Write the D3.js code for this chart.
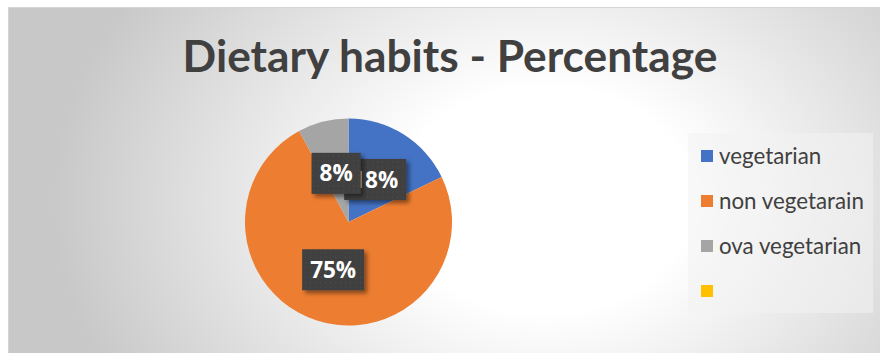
<!DOCTYPE html>
<html>
<head>
<meta charset="utf-8">
<script src="https://cdn.jsdelivr.net/npm/d3@7"></script>
<style>
  html, body { margin: 0; padding: 0; background: #ffffff; }
  svg { display: block; }
</style>
</head>
<body>
<svg id="chart" width="880" height="353"></svg>
<script>
// Dietary habits survey — share of respondents per diet
const categories = ["vegetarian", "non vegetarain", "ova vegetarian", ""];
const values = [18, 75, 8, 0];
const colors = ["#4472C4", "#ED7D31", "#A5A5A5", "#FFC000"];
const title = "Dietary habits - Percentage";

const W = 880, H = 353;
const svg = d3.select("#chart");
const defs = svg.append("defs");

// soft radial backdrop
const bg = defs.append("radialGradient")
  .attr("id", "bgGrad")
  .attr("gradientUnits", "userSpaceOnUse")
  .attr("cx", 545).attr("cy", 200).attr("r", 470)
  .attr("gradientTransform", "translate(545,200) scale(1.05,0.8) translate(-545,-200)");
bg.append("stop").attr("offset", 0).attr("stop-color", "#ffffff");
bg.append("stop").attr("offset", 0.3).attr("stop-color", "#ffffff");
bg.append("stop").attr("offset", 0.6).attr("stop-color", "#e8e8e8");
bg.append("stop").attr("offset", 1).attr("stop-color", "#c8c8c8");

// dotted texture for the value labels
const pat = defs.append("pattern")
  .attr("id", "dots").attr("patternUnits", "userSpaceOnUse")
  .attr("width", 5).attr("height", 5);
pat.append("rect").attr("width", 5).attr("height", 5).attr("fill", "#3f3f3f");
pat.append("circle").attr("cx", 2.5).attr("cy", 2.5).attr("r", 0.8).attr("fill", "#4d4d4d");

const shadow = defs.append("filter").attr("id", "shadow")
  .attr("x", "-30%").attr("y", "-30%").attr("width", "160%").attr("height", "160%");
shadow.append("feDropShadow").attr("dx", 3).attr("dy", 3).attr("stdDeviation", 2.2)
  .attr("flood-color", "#000").attr("flood-opacity", 0.45);

svg.append("rect")
  .attr("x", 8.5).attr("y", 7.5).attr("width", W).attr("height", H)
  .attr("fill", "url(#bgGrad)").attr("stroke", "#d4d4d4");

// helper: scale a text element's font so it spans the given width
function fitWidth(sel, base, width) {
  sel.attr("font-size", base);
  const w = sel.node().getComputedTextLength();
  return base * width / w;
}

// title, fitted to its span
const titleEl = svg.append("text")
  .attr("x", 450).attr("y", 72)
  .attr("text-anchor", "middle")
  .attr("font-family", "Lato, 'Open Sans', sans-serif")
  .attr("font-weight", 700)
  .attr("fill", "#404040")
  .text(title);
titleEl.attr("font-size", fitWidth(titleEl, 40, 535));

// pie
const cx = 348.5, cy = 222, R = 103.5;
const pie = d3.pie().sort(null).value(d => d.value);
const data = categories.map((c, i) => ({ name: c, value: values[i], color: colors[i] }));
const arcs = pie(data);
const arc = d3.arc().innerRadius(0).outerRadius(R);
const labelArc = d3.arc().innerRadius(R * 0.485).outerRadius(R * 0.485);

const g = svg.append("g").attr("transform", `translate(${cx},${cy})`);
g.selectAll("path.slice").data(arcs).join("path")
  .attr("class", "slice")
  .attr("d", arc)
  .attr("fill", d => d.data.color);

const labelSize = 22.5;

// value labels (dark callout boxes)
const lab = g.selectAll("g.lab").data(arcs.filter(d => d.data.value > 0)).join("g")
  .attr("class", "lab")
  .attr("transform", d => `translate(${labelArc.centroid(d)})`);
lab.each(function(d) {
  const sel = d3.select(this);
  const box = sel.append("rect").attr("fill", "url(#dots)").attr("filter", "url(#shadow)");
  const t = sel.append("text")
    .attr("text-anchor", "middle")
    .attr("dy", "0.36em")
    .attr("font-family", "'Open Sans', Lato, sans-serif")
    .attr("font-weight", 700)
    .attr("font-size", labelSize)
    .attr("fill", "#ffffff")
    .text(d.data.value + "%");
  const tw = t.node().getComputedTextLength();
  const bw = tw + 16, bh = 41;
  box.attr("x", -bw / 2).attr("y", -bh / 2).attr("width", bw).attr("height", bh);
});

// legend
const lg = svg.append("g");
lg.append("rect")
  .attr("x", 688).attr("y", 133).attr("width", 185).attr("height", 180)
  .attr("fill", "#f2f2f2").attr("opacity", 0.55);
const probe2 = svg.append("text")
  .attr("font-family", "Lato, 'Open Sans', sans-serif").text("non vegetarain");
const legendSize = fitWidth(probe2, 20, 145);
probe2.remove();
const rowY = d3.scalePoint().domain(categories.map((c, i) => i)).range([156, 291]);
const item = lg.selectAll("g.item").data(data).join("g")
  .attr("class", "item")
  .attr("transform", (d, i) => `translate(701,${rowY(i)})`);
item.append("rect")
  .attr("x", 0).attr("y", -6).attr("width", 12).attr("height", 12)
  .attr("fill", d => d.color);
item.append("text")
  .attr("x", 18).attr("dy", "0.35em")
  .attr("font-family", "Lato, 'Open Sans', sans-serif")
  .attr("font-size", legendSize)
  .attr("fill", "#404040")
  .text(d => d.name);
</script>
</body>
</html>
